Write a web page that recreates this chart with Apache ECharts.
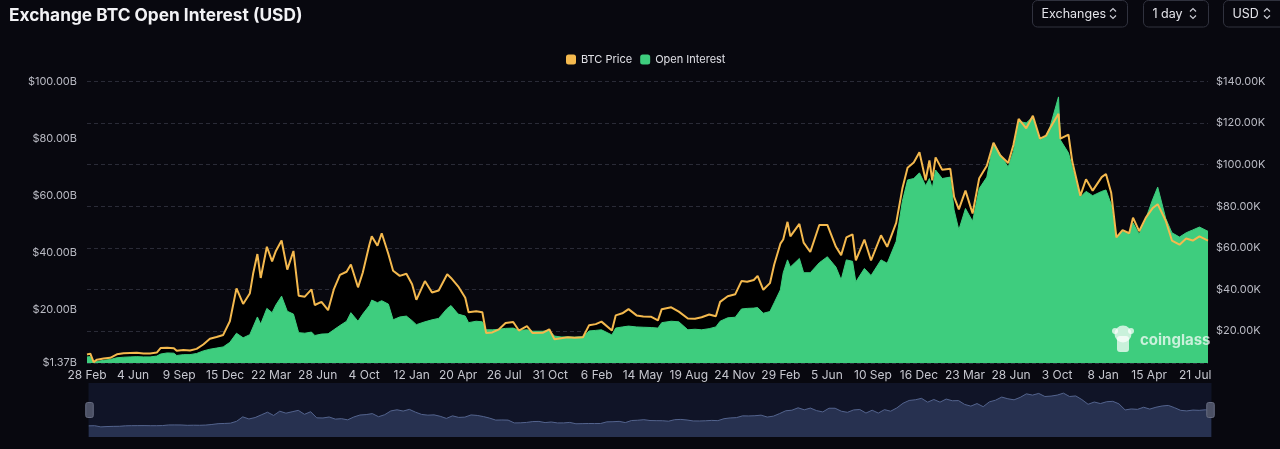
<!DOCTYPE html>
<html>
<head>
<meta charset="utf-8">
<script src="https://cdn.jsdelivr.net/npm/echarts@6/dist/echarts.min.js"></script>
<style>
  html, body { margin: 0; padding: 0; background: #08080f; }
  #main { width: 1280px; height: 449px; }
</style>
</head>
<body>
<div id="main"></div>
<script>
// dates of the sampled points (roughly every two weeks, plus turning points)
const dates = [
  '2020-02-28','2020-03-06','2020-03-13','2020-03-20','2020-04-03','2020-04-17','2020-05-01','2020-05-15',
  '2020-05-29','2020-06-12','2020-06-26','2020-07-10','2020-07-24','2020-08-01','2020-08-15','2020-08-29',
  '2020-09-04','2020-09-18','2020-10-02','2020-10-16','2020-10-30','2020-11-13','2020-11-27','2020-12-11',
  '2020-12-25',
  '2021-01-08','2021-01-22','2021-02-05','2021-02-12','2021-02-21','2021-02-28','2021-03-13','2021-03-24',
  '2021-04-01','2021-04-13','2021-04-25','2021-05-08','2021-05-19','2021-06-01','2021-06-15','2021-06-22',
  '2021-07-06','2021-07-20','2021-08-01','2021-08-14','2021-08-28','2021-09-06','2021-09-21','2021-10-01',
  '2021-10-15','2021-10-20','2021-11-01','2021-11-10','2021-11-24','2021-12-04','2021-12-18',
  '2022-01-01','2022-01-13','2022-01-22','2022-02-09','2022-02-24','2022-03-10','2022-03-28','2022-04-05',
  '2022-04-20','2022-05-05','2022-05-12','2022-05-28','2022-06-10','2022-06-18','2022-07-01','2022-07-15',
  '2022-07-29','2022-08-14','2022-08-26','2022-09-12','2022-09-24','2022-10-15','2022-10-29','2022-11-09',
  '2022-11-23','2022-12-07','2022-12-21',
  '2023-01-08','2023-01-21','2023-02-04','2023-02-16','2023-03-10','2023-03-18','2023-04-01','2023-04-14',
  '2023-05-01','2023-05-15','2023-06-01','2023-06-15','2023-06-23','2023-07-13','2023-07-29','2023-08-17',
  '2023-09-01','2023-09-15','2023-10-01','2023-10-15','2023-10-24','2023-11-09','2023-11-25','2023-12-08',
  '2023-12-20',
  '2024-01-03','2024-01-11','2024-01-23','2024-02-06','2024-02-15','2024-02-28','2024-03-05','2024-03-14',
  '2024-03-20','2024-04-08','2024-04-17','2024-05-01','2024-05-20','2024-06-06','2024-06-24','2024-07-05',
  '2024-07-16','2024-07-29','2024-08-05','2024-08-23','2024-09-06','2024-09-27','2024-10-10','2024-10-29',
  '2024-11-11','2024-11-22','2024-12-05','2024-12-17','2024-12-30',
  '2025-01-07','2025-01-13','2025-01-20','2025-02-03','2025-02-20','2025-02-28','2025-03-10','2025-03-24',
  '2025-04-08','2025-04-22','2025-05-08','2025-05-22','2025-06-05','2025-06-22','2025-07-03','2025-07-14',
  '2025-07-30','2025-08-13','2025-08-28','2025-09-10','2025-09-18','2025-10-06','2025-10-10','2025-10-27',
  '2025-11-04','2025-11-21','2025-12-03','2025-12-17',
  '2026-01-05','2026-01-14','2026-01-25','2026-02-05','2026-02-18','2026-03-04','2026-03-12','2026-03-25',
  '2026-04-08','2026-04-22','2026-05-03','2026-05-20','2026-06-02','2026-06-18','2026-07-02','2026-07-16',
  '2026-07-30','2026-08-17'
]

// BTC price, thousands of USD
const btcPrice = [
  8.7, 9.1, 5.0, 6.2, 6.8, 7.1, 8.8, 9.3,
  9.4, 9.5, 9.2, 9.2, 9.6, 11.8, 11.9, 11.7,
  10.5, 10.9, 10.6, 11.4, 13.5, 16.3, 17.1, 18.1,
  24.7,
  40.5, 33.0, 38.0, 47.5, 57.0, 45.5, 60.5, 53.5,
  58.5, 63.5, 49.5, 58.5, 37.0, 36.5, 40.0, 32.5,
  34.0, 30.0, 40.0, 47.0, 48.5, 52.0, 41.0, 48.0,
  61.5, 65.5, 61.0, 67.0, 57.0, 49.0, 46.5,
  47.5, 42.5, 35.0, 44.0, 38.5, 39.5, 47.3, 45.5,
  41.5, 36.0, 29.0, 29.5, 29.0, 19.0, 19.3, 20.8,
  23.8, 24.3, 20.2, 22.3, 19.0, 19.1, 20.8, 16.0,
  16.5, 17.0, 16.8,
  17.0, 22.8, 23.3, 24.5, 20.2, 27.5, 28.5, 30.5,
  27.5, 27.0, 26.8, 25.1, 30.5, 31.4, 29.3, 26.0,
  25.9, 26.6, 27.9, 27.1, 34.0, 36.7, 37.7, 44.0,
  43.7,
  44.5, 46.5, 39.8, 43.0, 52.0, 62.0, 64.0, 72.5,
  65.5, 71.5, 62.5, 58.0, 71.0, 71.0, 60.5, 56.5,
  65.0, 66.5, 54.0, 64.0, 53.9, 66.0, 60.5, 72.0,
  88.5, 98.5, 101.0, 106.0, 92.5,
  102.0, 92.5, 103.5, 97.5, 98.0, 84.5, 78.5, 87.5,
  76.5, 93.5, 99.5, 110.5, 104.5, 100.8, 109.5, 122.0,
  117.5, 123.5, 112.5, 114.0, 117.5, 124.5, 112.5, 114.5,
  101.5, 85.0, 93.0, 87.5,
  94.0, 95.5, 86.5, 65.0, 68.5, 67.0, 74.5, 68.0,
  74.5, 79.0, 81.0, 73.0, 63.5, 61.5, 64.5, 63.5,
  65.5, 63.5
]

// open interest, billions of USD
const openInterest = [
  3.5, 3.6, 1.37, 1.9, 2.3, 2.6, 3.2, 3.4,
  3.5, 3.6, 3.5, 3.5, 3.8, 4.5, 4.9, 4.8,
  4.0, 4.3, 4.3, 4.7, 5.6, 6.2, 6.6, 7.0,
  8.6,
  11.8, 10.2, 11.3, 14.0, 17.5, 15.0, 20.5, 19.0,
  21.7, 24.8, 19.5, 18.5, 12.0, 11.8, 12.2, 11.0,
  11.5, 11.6, 13.0, 14.5, 16.0, 19.0, 16.0, 18.5,
  21.5, 23.4, 22.5, 23.2, 22.0, 16.5, 17.5,
  17.8, 16.2, 14.8, 15.8, 16.5, 17.0, 20.5, 21.5,
  18.5, 17.8, 15.5, 16.0, 15.8, 13.0, 13.0, 13.2,
  13.5, 13.6, 12.8, 13.0, 12.5, 12.5, 12.8, 10.8,
  10.5, 10.5, 10.4,
  10.6, 12.6, 12.8, 13.0, 11.2, 13.6, 14.0, 14.3,
  14.0, 13.9, 13.8, 13.6, 15.5, 16.0, 15.8, 13.0,
  13.2, 13.0, 13.4, 14.0, 16.0, 17.2, 17.4, 20.3,
  20.5,
  20.6, 20.8, 18.8, 19.4, 22.5, 27.0, 33.0, 37.5,
  35.0, 38.0, 33.0, 33.0, 36.5, 38.6, 35.0, 30.5,
  37.5, 37.0, 29.8, 34.5, 32.0, 37.5, 36.3, 44.0,
  58.0, 65.5, 66.0, 68.0, 63.5,
  66.0, 62.5, 69.0, 66.0, 66.5, 55.0, 48.0, 55.5,
  51.0, 62.5, 66.5, 78.5, 74.5, 70.0, 75.5, 86.0,
  85.5, 87.6, 79.5, 81.0, 84.0, 94.6, 79.5, 75.0,
  70.0, 59.5, 61.5, 60.0,
  61.5, 62.0, 57.0, 45.5, 47.5, 46.5, 50.5, 46.5,
  52.0, 58.5, 63.0, 52.0, 47.0, 45.5, 47.0, 48.0,
  49.0, 47.5
]

// dates shown under the x axis
const tickLabels = [
  '2020-02-28','2020-06-04','2020-09-09','2020-12-15','2021-03-22','2021-06-28','2021-10-04',
  '2022-01-12','2022-04-20','2022-07-26','2022-10-31','2023-02-06','2023-05-14','2023-08-19',
  '2023-11-24','2024-02-29','2024-06-05','2024-09-10','2024-12-16','2025-03-23','2025-06-28',
  '2025-10-03','2026-01-08','2026-04-15','2026-07-21'
]

const START = '2020-02-28'
const END = '2026-08-17'
const MONTHS = ['Jan','Feb','Mar','Apr','May','Jun','Jul','Aug','Sep','Oct','Nov','Dec']
const PRICE_COLOR = '#f4b94e'
const OI_COLOR = '#3ecd7e'
const FONT = 'Inter, "Noto Sans", sans-serif'

// days since START, so the x axis can be a plain value axis
const dayOf = (s) => Math.round((Date.parse(s) - Date.parse(START)) / 86400000)
const tickDays = tickLabels.map(dayOf)
const labelOf = (s) => {
    let d = new Date(Date.parse(s))
    return d.getUTCDate() + ' ' + MONTHS[d.getUTCMonth()]
}

let myChart = echarts.init(document.getElementById('main'))

const pricePairs = dates.map((d, i) => [dayOf(d), btcPrice[i]])
const oiPairs = dates.map((d, i) => [dayOf(d), openInterest[i]])

// little up/down chevron used in the selector buttons
const chevron = (cx, cy) => {
    const st = {fill: null, stroke: '#c9cad2', lineWidth: 1.2}
    return [
        {type: 'polyline', z: 100, shape: {points: [[cx - 3, cy - 2], [cx, cy - 5], [cx + 3, cy - 2]]}, style: st},
        {type: 'polyline', z: 100, shape: {points: [[cx - 3, cy + 2], [cx, cy + 5], [cx + 3, cy + 2]]}, style: st}
    ]
}

const button = (x, w, label) => [
    {
        type: 'rect', z: 100,
        shape: {x: x, y: 0.5, width: w, height: 26.5, r: 5},
        style: {fill: 'transparent', stroke: '#30323e', lineWidth: 1}
    },
    {
        type: 'text', z: 100,
        x: x + 9, y: 14,
        style: {text: label, fill: '#e4e4ea', font: '12.5px ' + FONT, verticalAlign: 'middle'}
    }
]

const option = {
    backgroundColor: '#08080f',
    animation: false,
    title: {
        text: 'Exchange BTC Open Interest (USD)',
        left: 4,
        top: 2,
        textStyle: {color: '#f2f2f5', fontSize: 17.3, fontWeight: 'bold', fontFamily: FONT}
    },
    legend: {
        top: 49,
        left: 561,
        itemWidth: 10,
        itemHeight: 10,
        itemGap: 8,
        icon: 'roundRect',
        textStyle: {color: '#e0e0e6', fontSize: 11, fontFamily: FONT},
        data: [
            {name: 'BTC Price', itemStyle: {color: PRICE_COLOR}},
            {name: 'Open Interest', itemStyle: {color: OI_COLOR}}
        ]
    },
    grid: {left: 87, right: 72, top: 81.5, bottom: 86},
    xAxis: {
        type: 'value',
        min: 0,
        max: dayOf(END),
        axisLine: {show: false},
        axisTick: {show: false},
        splitLine: {show: false},
        axisLabel: {
            customValues: tickDays,
            color: '#c6c7cf',
            fontSize: 12,
            fontFamily: FONT,
            margin: 6,
            formatter: (v) => {
                let i = tickDays.indexOf(Math.round(v))
                return i < 0 ? '' : labelOf(tickLabels[i])
            }
        }
    },
    yAxis: [
        {
            type: 'value',
            min: 1.37,
            max: 100,
            splitNumber: 5,
            splitLine: {show: false},
            axisLine: {show: false},
            axisTick: {show: false},
            axisLabel: {
                color: '#b9bac3', fontSize: 11, fontFamily: FONT, margin: 10,
                formatter: v => '$' + v.toFixed(2) + 'B'
            }
        },
        {
            type: 'value',
            min: 4.6,
            max: 140,
            splitNumber: 7,
            position: 'right',
            axisLine: {show: false},
            axisTick: {show: false},
            splitLine: {lineStyle: {color: '#2a2b37', type: [4, 3], width: 1}},
            axisLabel: {
                color: '#b9bac3', fontSize: 11, fontFamily: FONT, margin: 8,
                showMinLabel: false,
                formatter: v => '$' + v.toFixed(2) + 'K'
            }
        }
    ],
    dataZoom: [{
        type: 'slider',
        xAxisIndex: 0,
        start: 0,
        end: 100,
        left: 86,
        right: 71,
        top: 383,
        height: 54,
        backgroundColor: '#0d1121',
        borderColor: 'transparent',
        fillerColor: 'rgba(40,50,85,0.12)',
        showDetail: false,
        brushSelect: false,
        moveHandleSize: 0,
        handleIcon: 'path://M2,0 H6 A2,2 0 0 1 8,2 V14 A2,2 0 0 1 6,16 H2 A2,2 0 0 1 0,14 V2 A2,2 0 0 1 2,0 Z',
        handleSize: 15,
        handleStyle: {color: '#4b5064', borderColor: '#666b80', borderWidth: 1},
        dataBackground: {
            lineStyle: {color: '#5a6b96', width: 1, opacity: 1},
            areaStyle: {color: '#273150', opacity: 1}
        },
        selectedDataBackground: {
            lineStyle: {color: '#5a6b96', width: 1, opacity: 1},
            areaStyle: {color: '#273150', opacity: 1}
        }
    }],
    graphic: [
        ...button(1032.5, 95, 'Exchanges'),
        ...chevron(1113, 13.5),
        ...button(1143.5, 65, '1 day'),
        ...chevron(1193, 13.5),
        ...button(1223.5, 70, 'USD'),
        ...chevron(1267, 13.5),
        // watermark
        {
            type: 'group', z: 100,
            children: [
                {type: 'circle', z: 100, shape: {cx: 1123, cy: 334, r: 8.5}, style: {fill: 'rgba(255,255,255,0.72)'}},
                {type: 'rect', z: 100, shape: {x: 1117, y: 336, width: 12, height: 16, r: 3}, style: {fill: 'rgba(255,255,255,0.72)'}},
                {type: 'circle', z: 100, shape: {cx: 1115, cy: 331, r: 3}, style: {fill: 'rgba(255,255,255,0.72)'}},
                {type: 'circle', z: 100, shape: {cx: 1131, cy: 331, r: 3}, style: {fill: 'rgba(255,255,255,0.72)'}}
            ]
        },
        {
            type: 'text', z: 100,
            x: 1140, y: 340,
            style: {text: 'coinglass', fill: 'rgba(255,255,255,0.72)', font: 'bold 15px ' + FONT, verticalAlign: 'middle'}
        }
    ],
    series: [
        {
            // dark band under the price line
            name: 'BTC Price',
            type: 'line',
            yAxisIndex: 1,
            z: 1,
            showSymbol: false,
            silent: true,
            color: PRICE_COLOR,
            lineStyle: {width: 0, opacity: 0},
            areaStyle: {color: '#000000', opacity: 1},
            data: pricePairs
        },
        {
            name: 'Open Interest',
            type: 'line',
            yAxisIndex: 0,
            z: 2,
            showSymbol: false,
            color: OI_COLOR,
            lineStyle: {width: 1, color: OI_COLOR},
            areaStyle: {color: OI_COLOR, opacity: 1},
            data: oiPairs
        },
        {
            name: 'BTC Price',
            type: 'line',
            yAxisIndex: 1,
            z: 3,
            showSymbol: false,
            color: PRICE_COLOR,
            lineStyle: {width: 2, color: PRICE_COLOR},
            data: pricePairs
        }
    ]
}

myChart.setOption(option)
</script>
</body>
</html>
